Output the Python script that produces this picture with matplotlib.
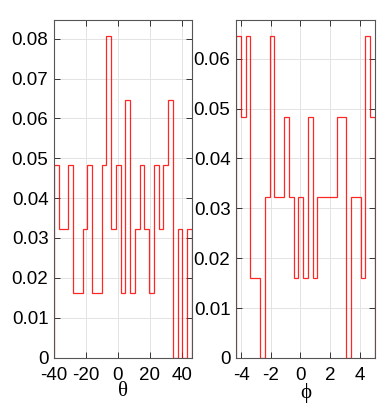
import numpy as np
import matplotlib
matplotlib.use("Agg")
import matplotlib.pyplot as plt

# histogram counts (out of 62 samples), 29 bins each
n_total = 62
theta_counts = [3, 2, 2, 3, 1, 1, 2, 3, 1, 1, 3, 5, 2, 3, 1, 4, 1, 2, 3, 2, 1, 3, 2, 3, 4, 0, 2, 0, 2]
theta_lo, theta_hi = -40, 46.5
phi_counts = [4, 3, 4, 1, 1, 0, 2, 4, 2, 2, 3, 2, 1, 2, 1, 3, 1, 2, 2, 2, 2, 3, 3, 0, 2, 2, 1, 4, 3]
phi_lo, phi_hi = -4.36, 5.04

theta_ticks = [-40, -20, 0, 20, 40]
phi_ticks = [-4, -2, 0, 2, 4]

plt.rcParams['font.family'] = ['Liberation Sans', 'DejaVu Sans']
plt.rcParams['font.size'] = 13.5
plt.rcParams['axes.unicode_minus'] = False

fig = plt.figure(figsize=(3.92, 4.04), dpi=100)
W, H = 392, 404
ax1 = fig.add_axes([54 / W, 1 - 357.5 / H, 138 / W, 337.5 / H])
ax2 = fig.add_axes([236 / W, 1 - 358 / H, 139 / W, 338 / H])


def draw(ax, counts, lo, hi, xticks, yticks, label):
    probs = np.array(counts) / n_total
    edges = np.linspace(lo, hi, len(counts) + 1)
    ax.stairs(probs, edges, color='red', lw=0.9, alpha=0.85, baseline=0)
    ax.set_xlim(lo, hi)
    ax.set_ylim(0, probs.max() * 1.05)
    ax.set_xticks(xticks)
    ax.set_yticks(yticks)
    ax.set_yticklabels(['0' if v == 0 else '%.2f' % v for v in yticks])
    ax.grid(True, color='#e3e3e3', lw=0.7)
    ax.set_axisbelow(True)
    ax.tick_params(direction='in', top=True, right=True, length=4, width=0.7,
                   color='#333333')
    ax.tick_params(axis='y', pad=4)
    ax.tick_params(axis='x', pad=6.5)
    for s in ax.spines.values():
        s.set_color('#555555')
        s.set_linewidth(0.8)
    ax.set_xlabel(label, family=['Liberation Serif', 'DejaVu Serif'], fontsize=15, labelpad=-1)


draw(ax1, theta_counts, theta_lo, theta_hi, theta_ticks,
     [0, 0.01, 0.02, 0.03, 0.04, 0.05, 0.06, 0.07, 0.08], 'θ')
draw(ax2, phi_counts, phi_lo, phi_hi, phi_ticks,
     [0, 0.01, 0.02, 0.03, 0.04, 0.05, 0.06], 'ϕ')

fig.savefig('out.png', dpi=100)
